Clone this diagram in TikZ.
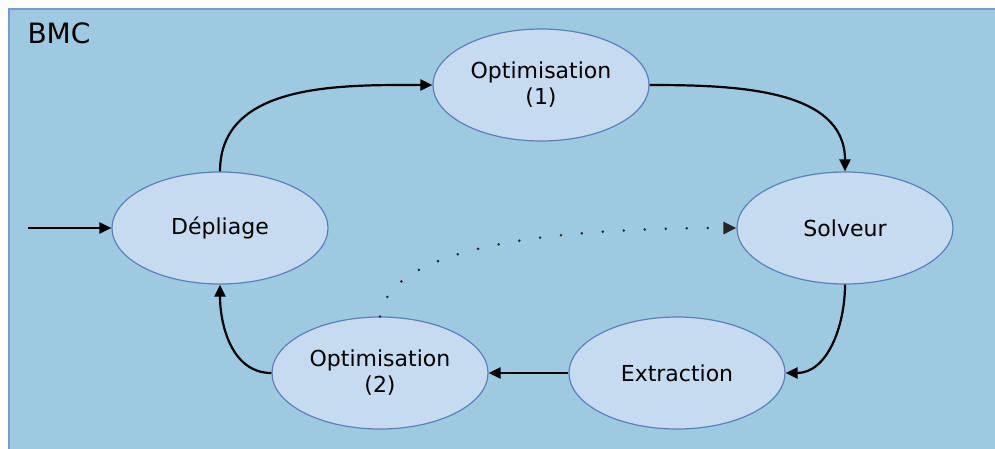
\documentclass[tikz,border=0pt]{standalone}
\usepackage{fontspec}
\setmainfont{DejaVu Sans}
\usetikzlibrary{shapes.geometric,arrows.meta}
\definecolor{panelbg}{HTML}{9ECAE1}
\definecolor{panelline}{HTML}{7A9CCB}
\definecolor{stagefill}{HTML}{C6DBEF}
\definecolor{stageline}{HTML}{5B80BC}
\begin{document}
\begin{tikzpicture}[x=1pt,y=-1pt,
  stage/.style={ellipse,draw=stageline,line width=1.2pt,fill=stagefill,
    minimum width=216pt,minimum height=112pt,inner sep=0pt,align=center,
    font=\fontsize{22}{26}\selectfont},
  flow/.style={line width=2.2pt,draw=black,-{Triangle[length=12pt,width=11pt]}},
  feedback/.style={line width=2.8pt,line cap=round,dash pattern=on 0pt off 21pt,
    draw=black!85,-{Triangle[length=13pt,width=12pt]}}]
  \useasboundingbox (0,0) rectangle (995,448);
  % panel
  \fill[panelbg] (8,8) rectangle (1000,455);
  \draw[panelline,line width=2pt] (9,455) -- (9,9) -- (1000,9);
  \node[anchor=base west,font=\fontsize{28}{32}\selectfont] (title) at (24,43) {BMC};
  % stages
  \node[stage] (depl) at (220,228) {Dépliage};
  \node[stage] (opt1) at (541,85) {Optimisation\\(1)};
  \node[stage] (solv) at (845,228) {Solveur};
  \node[stage] (extr) at (677,373) {Extraction};
  \node[stage] (opt2) at (380,373) {Optimisation\\(2)};
  \coordinate (in) at (28,228);
  % connectors
  \draw[flow] (in) -- (depl.west);
  \draw[flow] (depl.north) to[out=90,in=180] (opt1.west);
  \draw[flow] (opt1.east) to[out=0,in=90] (solv.north);
  \draw[flow] (solv.south) to[out=-90,in=0] (extr.east);
  \draw[flow,line width=2.6pt] (extr.west) -- (opt2.east);
  \draw[flow] (opt2.west) to[out=180,in=-90] (depl.south);
  \draw[feedback] (opt2.north) .. controls +(10,-72) and +(-177,0) .. (solv.west);
\end{tikzpicture}
\end{document}
